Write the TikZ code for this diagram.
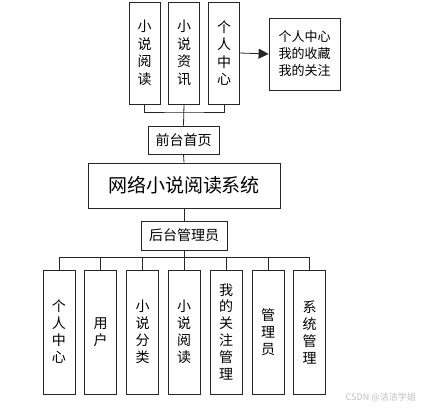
\documentclass[tikz,border=0pt]{standalone}
\usepackage{fontspec}
\setmainfont{Noto Sans CJK SC}
\usetikzlibrary{arrows.meta}
\begin{document}
\begin{tikzpicture}[x=1pt,y=-1pt,
  box/.style={draw=black!85,line width=0.8pt,inner sep=0pt,align=center},
  vbox/.style={box,minimum width=31pt,font=\fontsize{14}{17.5}\selectfont},
  bvbox/.style={box,minimum width=32pt,minimum height=124pt,font=\fontsize{14}{17}\selectfont},
  conn/.style={draw=black!85,line width=0.8pt}]
\useasboundingbox (0,0) rectangle (421,410);
% top
\node[vbox,minimum height=102pt] (t1) at (144.5,53) {小\\说\\阅\\读};
\node[vbox,minimum height=102pt] (t2) at (184,53) {小\\说\\资\\讯};
\node[vbox,minimum height=102pt] (t3) at (224,53) {个\\人\\中\\心};
\node[box,minimum width=71pt,minimum height=72pt,font=\fontsize{13}{17}\selectfont] (r) at (304.5,54) {个人中心\\我的收藏\\我的关注};
\draw[conn,-{Triangle[length=10pt,width=10pt]}] (t3.east) -- (r.west);
% middle
\node[box,minimum width=71pt,minimum height=28pt,font=\fontsize{14}{17}\selectfont] (qt) at (183.5,140) {前台首页};
\node[box,minimum width=192pt,minimum height=45pt,font=\fontsize{19}{22}\selectfont] (m) at (184,185.5) {网络小说阅读系统};
\node[box,minimum width=86pt,minimum height=29pt,font=\fontsize{14}{17}\selectfont] (hg) at (184,235.5) {后台管理员};
\coordinate (tb) at (184,112);
\draw[conn] (t1.south) |- (tb) -| (t3.south);
\draw[conn] (t2.south) -- (qt.north);
\draw[conn] (qt.south) -- (m.north);
\draw[conn] (m.south) -- (hg.north);
% bottom
\node[bvbox] (b1) at (59,332) {个\\人\\中\\心};
\node[bvbox] (b2) at (100.5,332) {用\\户};
\node[bvbox] (b3) at (142.5,332) {小\\说\\分\\类};
\node[bvbox] (b4) at (184,332) {小\\说\\阅\\读};
\node[bvbox] (b5) at (226,332) {我\\的\\关\\注\\管\\理};
\node[bvbox] (b6) at (268,332) {管\\理\\员};
\node[bvbox] (b7) at (309.5,332) {系\\统\\管\\理};
\coordinate (bb) at (184,257.5);
\draw[conn] (hg.south) -- (bb);
\draw[conn] (b1.north) |- (bb) -| (b7.north);
\foreach \i in {2,3,4,5,6} \draw[conn] (b\i.north) -- (b\i.north |- bb);
\node[text=black!25,font=\fontsize{9}{10}\selectfont,anchor=east,inner sep=0pt] (wm) at (416,397) {CSDN @洁洁学姐};
\end{tikzpicture}
\end{document}
